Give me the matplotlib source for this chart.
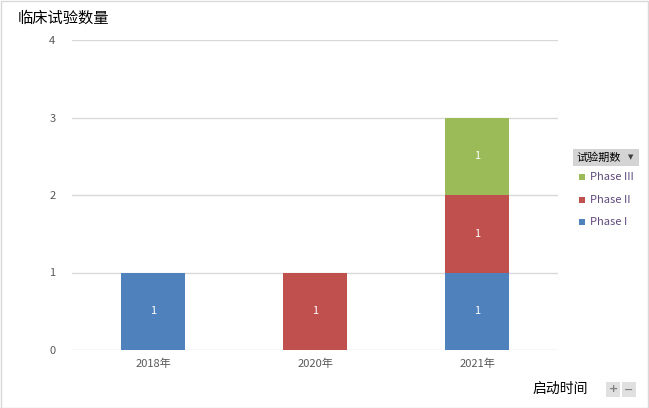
import matplotlib.pyplot as plt
import matplotlib.patches as mpatches
import numpy as np

plt.rcParams['font.family'] = ['Noto Sans CJK SC', 'DejaVu Sans']

years = ['2018年', '2020年', '2021年']
phase1 = [1, 0, 1]
phase2 = [0, 1, 1]
phase3 = [0, 0, 1]
series = [('Phase I', phase1, '#4F81BD'),
          ('Phase II', phase2, '#C0504D'),
          ('Phase III', phase3, '#9BBB59')]

W, H = 649, 408
fig = plt.figure(figsize=(W / 100, H / 100), dpi=100)
ax = fig.add_axes([72 / W, 58 / H, 486 / W, 310 / H])

x = np.arange(len(years))
bottom = np.zeros(len(years))
for name, vals, col in series:
    vals = np.array(vals, dtype=float)
    ax.bar(x, vals, 0.4, bottom=bottom, color=col, zorder=3)
    for xi, v, b in zip(x, vals, bottom):
        if v > 0:
            ax.text(xi, b + v / 2, str(int(v)), color='white', ha='center',
                    va='center', fontsize=8, zorder=4)
    bottom += vals

ax.set_xlim(-0.5, 2.5)
ax.set_ylim(0, 4)
ax.set_yticks([0, 1, 2, 3, 4])
ax.set_xticks(x)
ax.set_xticklabels(years)
ax.yaxis.grid(True, color='#D9D9D9', linewidth=1, zorder=0)
for s in ax.spines.values():
    s.set_visible(False)
ax.tick_params(length=0, colors='#595959', labelsize=8)
ax.tick_params(axis='y', pad=12)
ax.tick_params(axis='x', pad=6)

# figure border
fig.patches.append(mpatches.Rectangle((0.5 / W, 0.5 / H), 1 - 1.5 / W, 1 - 1.5 / H,
                                      transform=fig.transFigure, fill=False,
                                      edgecolor='#D9D9D9', linewidth=1))

fig.text(18 / W, 1 - 18 / H, '临床试验数量', fontsize=11, va='center', ha='left')

# legend header button
fig.patches.append(mpatches.Rectangle((573 / W, 1 - 165 / H), 65 / W, 16 / H,
                                      transform=fig.transFigure, facecolor='#D4D4D4',
                                      edgecolor='#C8C8C8', linewidth=0.5))
fig.text(576 / W, 1 - 157.5 / H, '试验期数', fontsize=8, va='center', ha='left')
fig.text(631 / W, 1 - 157.5 / H, '▼', fontsize=5, va='center', ha='center',
         color='#404040', family='DejaVu Sans')

legend_y = [177, 200, 222]
for (name, vals, col), ly in zip(series[::-1], legend_y):
    fig.patches.append(mpatches.Rectangle((579 / W, 1 - (ly + 3) / H), 6 / W, 6 / H,
                                          transform=fig.transFigure, facecolor=col,
                                          edgecolor='none'))
    fig.text(590 / W, 1 - ly / H, name, fontsize=8, va='center', ha='left',
             color='#604A7B')

fig.text(588 / W, 1 - 389 / H, '启动时间', fontsize=10, va='center', ha='right')
for bx, sym in [(606, '+'), (622, '−')]:
    fig.patches.append(mpatches.Rectangle((bx / W, 1 - 397 / H), 14 / W, 15 / H,
                                          transform=fig.transFigure, facecolor='#E0E0E0',
                                          edgecolor='none'))
    fig.text((bx + 7) / W, 1 - 389.5 / H, sym, fontsize=8, va='center', ha='center',
             color='#808080', family='DejaVu Sans', weight='bold')

fig.savefig('out.png', dpi=100)
